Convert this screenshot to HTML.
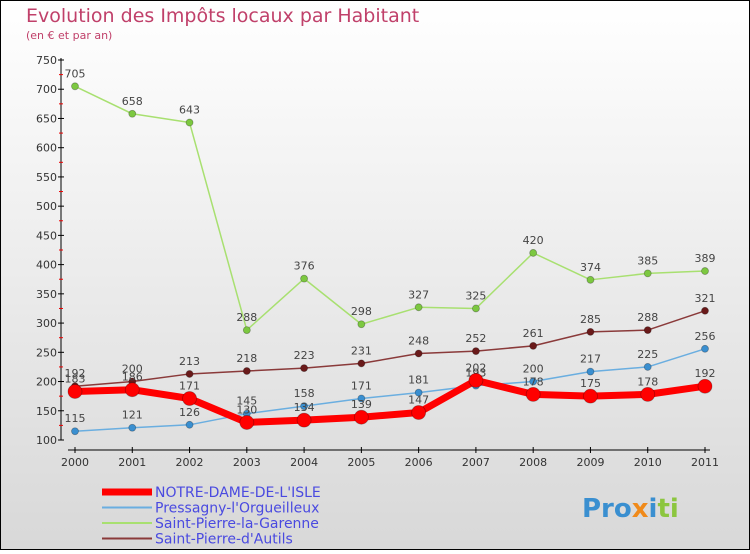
<!DOCTYPE html>
<html><head><meta charset="utf-8"><style>
body{margin:0}
#c{width:750px;height:550px;position:relative;font-family:"DejaVu Sans","Liberation Sans",sans-serif;}
</style></head><body>
<div id="c">
<svg width="750" height="550" xmlns="http://www.w3.org/2000/svg">
<defs><linearGradient id="bg" x1="0" y1="0" x2="0" y2="1"><stop offset="0" stop-color="#ffffff"/><stop offset="1" stop-color="#d8d8d8"/></linearGradient></defs>
<rect x="0.5" y="0.5" width="749" height="549" fill="url(#bg)" stroke="#000"/>
<text x="26" y="22" font-size="19" fill="#c0406a">Evolution des Impôts locaux par Habitant</text>
<text x="26" y="39" font-size="11" fill="#c0406a">(en € et par an)</text>
<g id="axes"></g>
<g id="series"></g>
<g id="legend"></g>
<text x="582" y="517" font-size="26" font-weight="bold"><tspan fill="#3a8fd0">Pro</tspan><tspan fill="#f08a1a">x</tspan><tspan fill="#3a8fd0">i</tspan><tspan fill="#8cc63f">ti</tspan></text>
</svg>
</div>
<script>
const years = ["2000","2001","2002","2003","2004","2005","2006","2007","2008","2009","2010","2011"];
const yTicks = [100,150,200,250,300,350,400,450,500,550,600,650,700,750];
const notreDame = [183,186,171,130,134,139,147,202,178,175,178,192];
const pressagny = [115,121,126,145,158,171,181,193,200,217,225,256];
const garenne = [705,658,643,288,376,298,327,325,420,374,385,389];
const autils = [192,200,213,218,223,231,248,252,261,285,288,321];
const NS="http://www.w3.org/2000/svg";
const xs=i=>75+i*(630/11);
const ys=v=>440-(v-100)*(380/650);
function mk(t,a,p){const e=document.createElementNS(NS,t);for(const k in a)e.setAttribute(k,a[k]);p.appendChild(e);return e;}
const ax=document.getElementById('axes');
let l=mk('line',{x1:61,y1:58,x2:61,y2:440,stroke:'#000'},ax);


l=mk('line',{x1:68,y1:450,x2:710,y2:450,stroke:'#000'},ax);


yTicks.forEach((v,i)=>{
  const y=ys(v);
  mk('line',{x1:58,y1:y,x2:64,y2:y,stroke:'#000'},ax);
  if(i<yTicks.length-1){mk('line',{x1:59,y1:ys(v+25),x2:63,y2:ys(v+25),stroke:'#e00'},ax);}
  const t=mk('text',{x:57,y:y+4,'font-size':11,'text-anchor':'end',fill:'#333'},ax);
  t.textContent=v;
  
  
});
years.forEach((yr,i)=>{
  const x=xs(i);
  mk('line',{x1:x,y1:447,x2:x,y2:453,stroke:'#000'},ax);
  const t=mk('text',{x:x,y:466,'font-size':11,'text-anchor':'middle',fill:'#333'},ax);
  t.textContent=yr;
  
  
});
const sg=document.getElementById('series');
function draw(data,color,dot,w,r,name){
  const g=mk('g',{},sg);
  
  
  mk('polyline',{points:data.map((v,i)=>xs(i)+','+ys(v)).join(' '),fill:'none',stroke:color,'stroke-width':w,'stroke-linejoin':'round'},g);
  data.forEach((v,i)=>{
    const c=mk('circle',{cx:xs(i),cy:ys(v),r:r,fill:dot,stroke:'rgba(0,0,0,0.3)','stroke-width':0.8},g);
    
    
    const t=mk('text',{x:xs(i),y:ys(v)-9,'font-size':11,'text-anchor':'middle',fill:'#444'},g);
    t.textContent=v;
    
    
  });
}
draw(pressagny,'#6aaee0','#3a8fd0',1.5,3.5,'series-pressagny');
draw(garenne,'#a8e070','#7cc840',1.5,3.5,'series-garenne');
draw(autils,'#8a3a3a','#6a1a1a',1.5,3.5,'series-autils');
draw(notreDame,'#ff0000','#ff0000',7,7,'series-notre-dame');
const lg=document.getElementById('legend');
const items=[['NOTRE-DAME-DE-L\'ISLE','#ff0000',7],['Pressagny-l\'Orgueilleux','#6aaee0',2],['Saint-Pierre-la-Garenne','#a8e070',2],['Saint-Pierre-d\'Autils','#8a3a3a',2]];
items.forEach((it,i)=>{
  const y=492+i*15.5;
  const g=mk('g',{},lg);
  
  
  mk('line',{x1:102,y1:y,x2:152,y2:y,stroke:it[1],'stroke-width':it[2]},g);
  const t=mk('text',{x:155,y:y+5,'font-size':14,fill:'#4a4ae0'},g);
  t.textContent=it[0];
});
</script>
</body></html>
